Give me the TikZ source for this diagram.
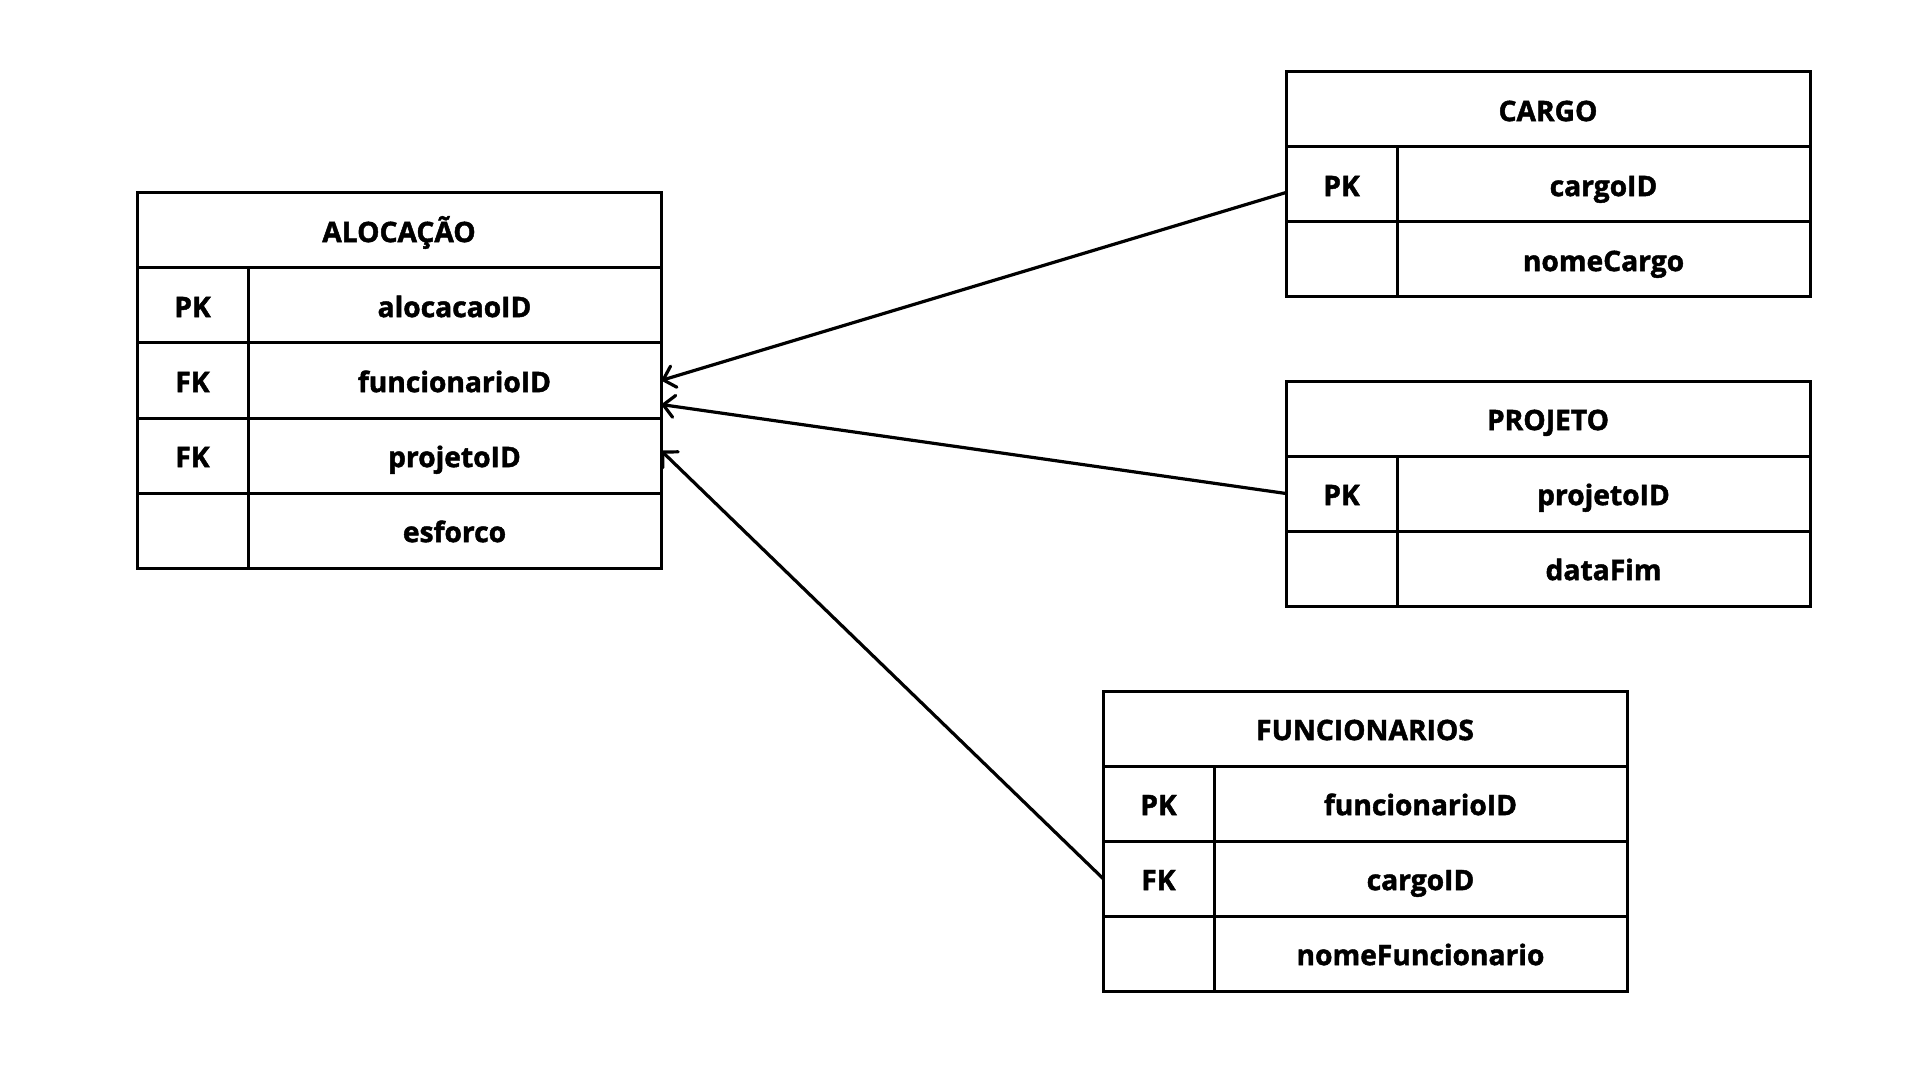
\documentclass[tikz,border=0pt]{standalone}
\usepackage{fontspec}
\setmainfont{Open Sans}[BoldFeatures={FakeBold=1.6}]
\usetikzlibrary{positioning,arrows.meta}

\tikzset{
    tabhead/.style={draw, line width=1.5pt, inner sep=0pt, outer sep=0pt, minimum width=262pt, minimum height=37.5pt,
        text height=13pt, text depth=1.4pt, font=\bfseries\fontsize{14.1}{16}\selectfont},
    keycell/.style={tabhead, minimum width=55.5pt},
    fieldcell/.style={tabhead, minimum width=206.5pt},
    fkarrow/.style={line width=1.6pt, line cap=round, -{Straight Barb[length=5.5pt, width=11pt, line cap=round]}}
}

\begin{document}
\begin{tikzpicture}[x=0.5pt, y=-0.5pt]
    \useasboundingbox (0,0) rectangle (1920,1080);

    % ALOCACAO
    \node[tabhead, anchor=north west] (aloc) at (137,193) {ALOCAÇÃO};
    \node[keycell, below right=0pt and 0pt of aloc.south west] (alocK1) {PK};
    \node[fieldcell, right=0pt of alocK1] (alocF1) {alocacaoID};
    \node[keycell, below=0pt of alocK1] (alocK2) {FK};
    \node[fieldcell, right=0pt of alocK2] (alocF2) {funcionarioID};
    \node[keycell, below=0pt of alocK2] (alocK3) {FK};
    \node[fieldcell, right=0pt of alocK3] (alocF3) {projetoID};
    \node[keycell, below=0pt of alocK3] (alocK4) {};
    \node[fieldcell, right=0pt of alocK4] (alocF4) {esforco};

    % CARGO
    \node[tabhead, anchor=north west] (cargo) at (1286,72) {CARGO};
    \node[keycell, below right=0pt and 0pt of cargo.south west] (cargoK1) {PK};
    \node[fieldcell, right=0pt of cargoK1] (cargoF1) {cargoID};
    \node[keycell, below=0pt of cargoK1] (cargoK2) {};
    \node[fieldcell, right=0pt of cargoK2] (cargoF2) {nomeCargo};

    % PROJETO
    \node[tabhead, anchor=north west] (proj) at (1286,381) {PROJETO};
    \node[keycell, below right=0pt and 0pt of proj.south west] (projK1) {PK};
    \node[fieldcell, right=0pt of projK1] (projF1) {projetoID};
    \node[keycell, below=0pt of projK1] (projK2) {};
    \node[fieldcell, right=0pt of projK2] (projF2) {dataFim};

    % FUNCIONARIOS
    \node[tabhead, anchor=north west] (func) at (1103,691) {FUNCIONARIOS};
    \node[keycell, below right=0pt and 0pt of func.south west] (funcK1) {PK};
    \node[fieldcell, right=0pt of funcK1] (funcF1) {funcionarioID};
    \node[keycell, below=0pt of funcK1] (funcK2) {FK};
    \node[fieldcell, right=0pt of funcK2] (funcF2) {cargoID};
    \node[keycell, below=0pt of funcK2] (funcK3) {};
    \node[fieldcell, right=0pt of funcK3] (funcF3) {nomeFuncionario};

    \draw[fkarrow] ([yshift=-4pt]cargoK1.west) -- (alocF2.east);
    \draw[fkarrow] (projK1.west) -- ([yshift=-12pt]alocF2.east);
    \draw[fkarrow] (funcK2.west) -- ([yshift=2.5pt]alocF3.east);
\end{tikzpicture}
\end{document}
